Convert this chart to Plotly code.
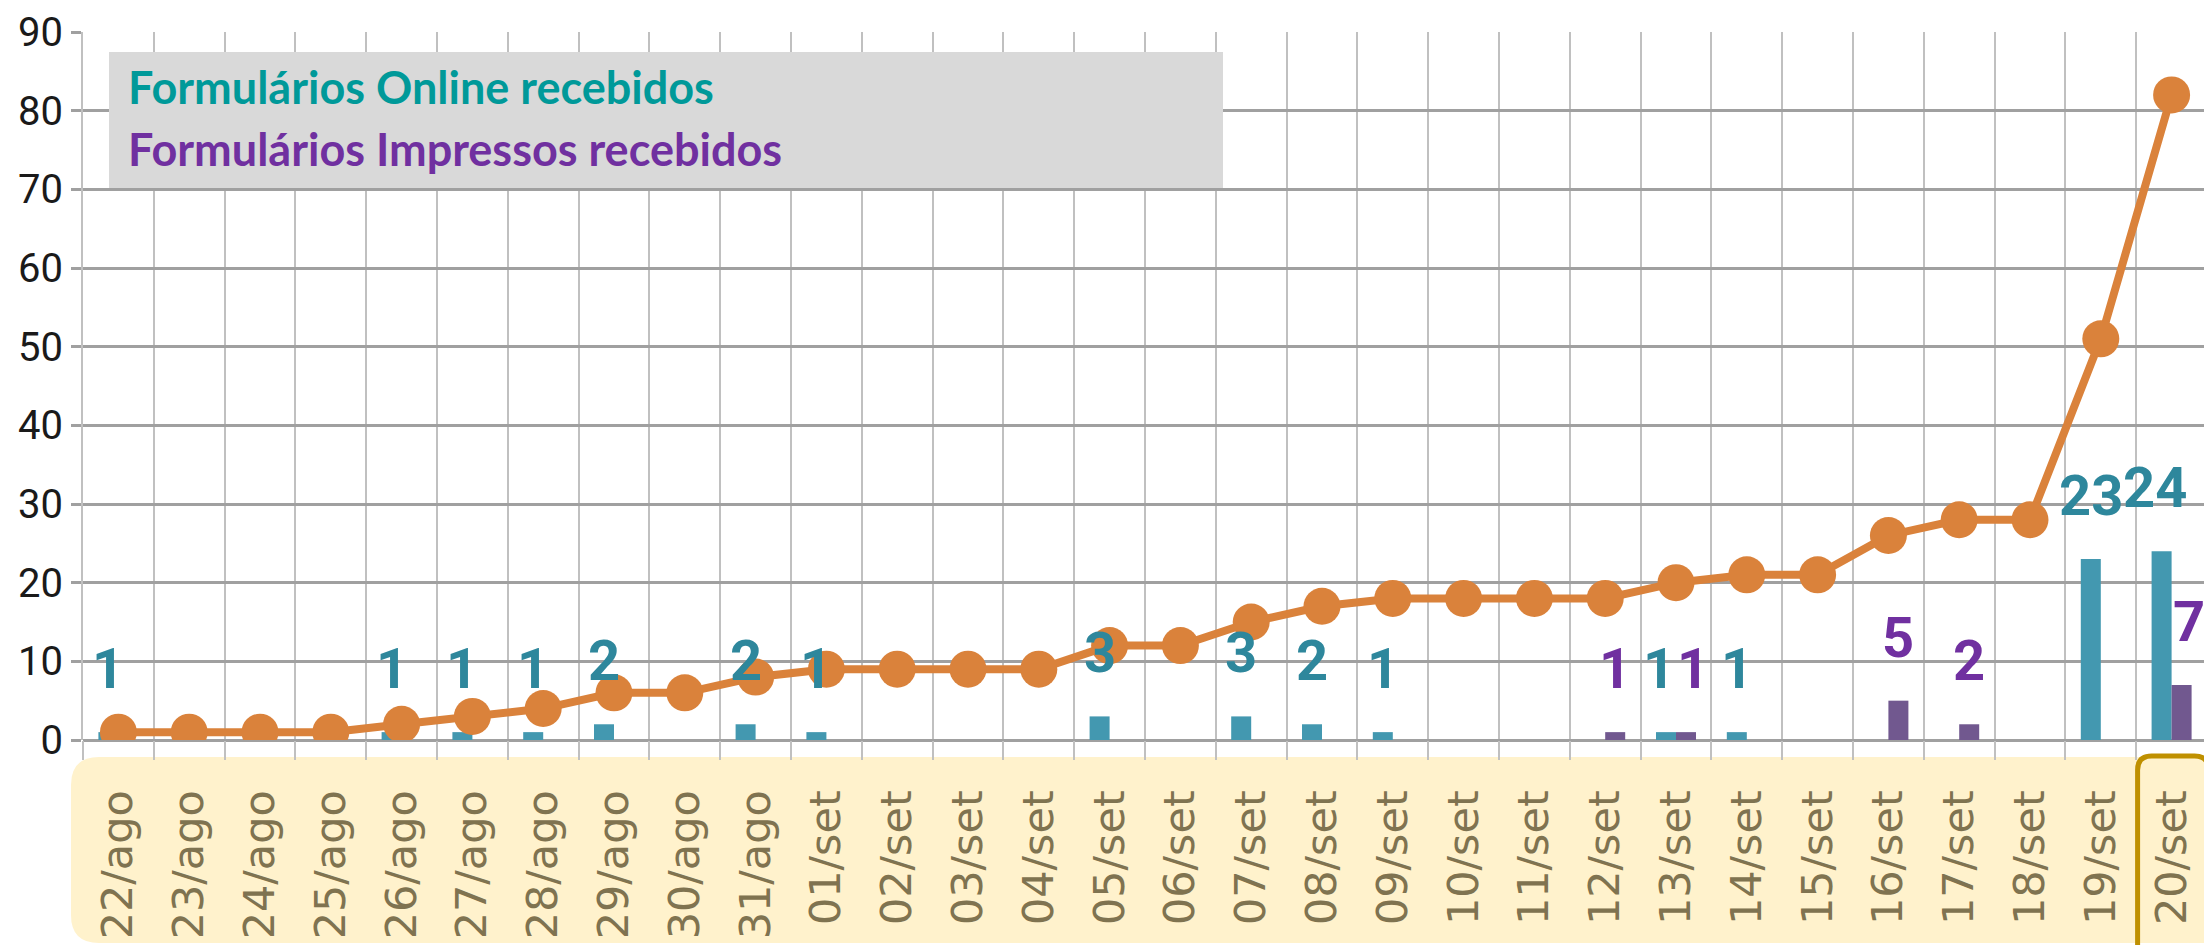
import plotly.graph_objects as go

# ---------------- data ----------------
categories = ["22/ago", "23/ago", "24/ago", "25/ago", "26/ago", "27/ago", "28/ago",
              "29/ago", "30/ago", "31/ago", "01/set", "02/set", "03/set", "04/set",
              "05/set", "06/set", "07/set", "08/set", "09/set", "10/set", "11/set",
              "12/set", "13/set", "14/set", "15/set", "16/set", "17/set", "18/set",
              "19/set", "20/set"]
online = [1, 0, 0, 0, 1, 1, 1, 2, 0, 2, 1, 0, 0, 0, 3, 0, 3, 2, 1, 0, 0, 0, 1, 1, 0, 0, 0, 0, 23, 24]
printed = [0, 0, 0, 0, 0, 0, 0, 0, 0, 0, 0, 0, 0, 0, 0, 0, 0, 0, 0, 0, 0, 1, 1, 0, 0, 5, 2, 0, 0, 7]
cumulative = [1, 1, 1, 1, 2, 3, 4, 6, 6, 8, 9, 9, 9, 9, 12, 12, 15, 17, 18, 18, 18, 18, 20, 21, 21, 26, 28, 28, 51, 82]
online_name = "Formulários Online recebidos"
printed_name = "Formulários Impressos recebidos"
total_name = "Total acumulado"
y_ticks = [0, 10, 20, 30, 40, 50, 60, 70, 80, 90]
highlight_category = "20/set"

# ---------------- geometry helpers (page pixels -> paper) ----------------
OFF = 8                      # default page margin of the html body
W, H = 2212 - OFF, 945 - OFF
PLOT_L, PLOT_R, PLOT_T, PLOT_B = 83, 2207, 32, 740   # in page pixels
ML = PLOT_L - OFF
MT = PLOT_T - OFF
MR = W - (PLOT_R - OFF)
MB = H - (PLOT_B - OFF)
PW, PH = W - ML - MR, H - MT - MB


def px(x):
    return (x - PLOT_L) / PW


def py(y):
    return (PLOT_B - y) / PH


def rounded_rect(x0, y0, x1, y1, r):
    pts = [
        f"M {px(x0 + r)},{py(y0)}",
        f"L {px(x1 - r)},{py(y0)}",
        f"Q {px(x1)},{py(y0)} {px(x1)},{py(y0 + r)}",
        f"L {px(x1)},{py(y1 - r)}",
        f"Q {px(x1)},{py(y1)} {px(x1 - r)},{py(y1)}",
        f"L {px(x0 + r)},{py(y1)}",
        f"Q {px(x0)},{py(y1)} {px(x0)},{py(y1 - r)}",
        f"L {px(x0)},{py(y0 + r)}",
        f"Q {px(x0)},{py(y0)} {px(x0 + r)},{py(y0)}",
        "Z",
    ]
    return " ".join(pts)


ONLINE_BAR = "#4398B0"
PRINTED_BAR = "#71588F"
ONLINE_LBL = "#2E879C"
PRINTED_LBL = "#7030A0"
LINE_C = "#DA823B"
NUMFONT = "Roboto, Liberation Sans, sans-serif"
LBL_SIZE = 56

fig = go.Figure()
fig.add_trace(go.Bar(x=categories, y=online, name=online_name,
                     marker=dict(color=ONLINE_BAR, line=dict(width=0))))
fig.add_trace(go.Bar(x=categories, y=printed, name=printed_name,
                     marker=dict(color=PRINTED_BAR, line=dict(width=0))))
fig.add_trace(go.Scatter(x=categories, y=cumulative, name=total_name, mode="lines+markers",
                         line=dict(color=LINE_C, width=8),
                         marker=dict(color=LINE_C, size=37)))
# carrier (invisible) for the category label axis
idx = list(range(len(categories)))
fig.add_trace(go.Scatter(x=idx, y=[None] * len(idx), xaxis="x2", mode="markers",
                         showlegend=False, hoverinfo="skip", marker=dict(opacity=0)))

annotations = []
for c, v_on, v_pr in zip(categories, online, printed):
    both = v_on > 0 and v_pr > 0
    sx = 17 if both else 10
    if v_on > 0:
        annotations.append(dict(x=c, y=v_on, xref="x", yref="y", text=f"<b>{v_on}</b>",
                                showarrow=False, xshift=-sx, yshift=28, yanchor="bottom",
                                font=dict(family=NUMFONT, size=LBL_SIZE, color=ONLINE_LBL)))
    if v_pr > 0:
        annotations.append(dict(x=c, y=v_pr, xref="x", yref="y", text=f"<b>{v_pr}</b>",
                                showarrow=False, xshift=sx, yshift=28, yanchor="bottom",
                                font=dict(family=NUMFONT, size=LBL_SIZE, color=PRINTED_LBL)))

# legend texts
LEG_FONT = "Lato, Carlito, Open Sans, sans-serif"
annotations.append(dict(x=px(126), y=py(87), xref="paper", yref="paper", text=f"<b>{online_name}</b>",
                        showarrow=False, xanchor="left", yanchor="middle",
                        font=dict(family=LEG_FONT, size=45, color="#009999")))
annotations.append(dict(x=px(126), y=py(149), xref="paper", yref="paper", text=f"<b>{printed_name}</b>",
                        showarrow=False, xanchor="left", yanchor="middle",
                        font=dict(family=LEG_FONT, size=45, color="#7030A0")))

hi = categories.index(highlight_category)
cat_w = PW / len(categories)
hc = PLOT_L + (hi + 0.5) * cat_w
shapes = [
    dict(type="path", xref="paper", yref="paper", layer="below",
         path=rounded_rect(71, 757, 2240, 943, 28),
         fillcolor="#FFF2CC", line=dict(width=0)),
    dict(type="rect", xref="paper", yref="paper", layer="above",
         x0=px(109), x1=px(1223), y0=py(188), y1=py(52),
         fillcolor="#D9D9D9", line=dict(width=0)),
    dict(type="path", xref="paper", yref="paper", layer="above",
         path=rounded_rect(hc - 34, 756, hc + 37, 970, 14),
         fillcolor="rgba(0,0,0,0)", line=dict(color="#BF9000", width=5)),
]

fig.update_layout(
    width=W, height=H, autosize=False,
    margin=dict(l=ML, r=MR, t=MT, b=MB, pad=0),
    paper_bgcolor="white", plot_bgcolor="white",
    barmode="group", bargap=0.435, bargroupgap=0,
    showlegend=False,
    annotations=annotations, shapes=shapes,
    xaxis=dict(type="category", tickson="boundaries", showgrid=True, automargin=False,
               gridcolor="#C0C0C0", gridwidth=2,
               ticks="outside", ticklen=19, tickcolor="#C0C0C0", tickwidth=2,
               showticklabels=False,
               showline=False, zeroline=False, range=[-0.5, len(categories) - 0.5]),
    xaxis2=dict(overlaying="x", anchor="y", side="bottom", type="linear",
                range=[-0.5, len(categories) - 0.5], tickmode="array",
                tickvals=idx, ticktext=categories, automargin=False,
                showgrid=False, zeroline=False, showline=False,
                ticks="outside", ticklen=32, tickcolor="rgba(0,0,0,0)",
                tickangle=-90,
                tickfont=dict(family="DejaVu Sans, Verdana, sans-serif", size=43, color="#7F7350")),
    yaxis=dict(range=[0, 90], tickvals=y_ticks, showgrid=True, automargin=False,
               gridcolor="#A0A0A0", gridwidth=2.5,
               zeroline=True, zerolinecolor="#A0A0A0", zerolinewidth=2.5,
               ticks="outside", ticklen=10, tickcolor="#A0A0A0", tickwidth=2.5,
               tickfont=dict(family=NUMFONT, size=40, color="#1A1A1A"),
               ticklabelstandoff=0,
               showline=True, linecolor="#C0C0C0", linewidth=2, mirror=True),
)

fig.write_html("out.html")
